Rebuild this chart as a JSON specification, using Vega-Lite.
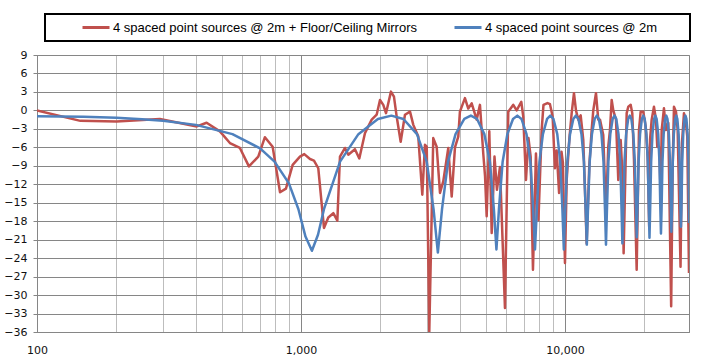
{
  "$schema": "https://vega.github.io/schema/vega-lite/v6.json",
  "width": 652,
  "height": 277,
  "autosize": {"type": "none"},
  "padding": {"left": 37, "top": 55, "right": 36, "bottom": 27},
  "background": "white",
  "datasets": {
    "red": [
      {"f":100,"db":0},{"f":146,"db":-1.7},{"f":200,"db":-1.8},{"f":292,"db":-1.4},{"f":403,"db":-2.6},{"f":439,"db":-2.0},
      {"f":493,"db":-3.4},{"f":538,"db":-5.3},{"f":587,"db":-6.1},{"f":635,"db":-9.1},{"f":689,"db":-7.5},{"f":730,"db":-4.35},
      {"f":781,"db":-5.9},{"f":833,"db":-13.3},{"f":877,"db":-12.7},{"f":930,"db":-8.85},{"f":991,"db":-7.5},{"f":1029,"db":-7.1},
      {"f":1082,"db":-7.9},{"f":1120,"db":-8.15},{"f":1163,"db":-9.4},{"f":1222,"db":-19.1},{"f":1269,"db":-17.4},{"f":1326,"db":-16.7},
      {"f":1373,"db":-17.9},{"f":1405,"db":-7.5},{"f":1468,"db":-6.1},{"f":1511,"db":-7.2},{"f":1601,"db":-6.3},{"f":1663,"db":-7.8},
      {"f":1747,"db":-3.7},{"f":1853,"db":-1.5},{"f":1935,"db":-0.7},{"f":1992,"db":1.7},{"f":2050,"db":0.9},{"f":2099,"db":-0.45},
      {"f":2192,"db":3.05},{"f":2250,"db":2.25},{"f":2304,"db":-1.0},{"f":2386,"db":-5.1},{"f":2477,"db":-0.7},{"f":2588,"db":-0.2},
      {"f":2664,"db":-2.35},{"f":2782,"db":-4.25},{"f":2881,"db":-13.7},{"f":2949,"db":-5.6},{"f":2995,"db":-5.9},{"f":3062,"db":-36},
      {"f":3170,"db":-4.5},{"f":3266,"db":-5.9},{"f":3362,"db":-13.4},{"f":3460,"db":-11.5},{"f":3614,"db":-6.1},{"f":3723,"db":-14},
      {"f":3831,"db":-6},{"f":3943,"db":-4.25},{"f":4000,"db":-0.2},{"f":4179,"db":2.0},{"f":4302,"db":0.3},{"f":4432,"db":1.15},
      {"f":4629,"db":-1.5},{"f":4764,"db":0.9},{"f":4903,"db":-7},{"f":4980,"db":-10.7},{"f":5051,"db":-17.2},{"f":5168,"db":-3.4},
      {"f":5277,"db":-19.9},{"f":5408,"db":-7.5},{"f":5525,"db":-12.9},{"f":5672,"db":-9.2},{"f":5925,"db":-32.1},{"f":6098,"db":-0.2},
      {"f":6371,"db":0.9},{"f":6561,"db":0},{"f":6831,"db":1.4},{"f":6951,"db":-1.0},{"f":7117,"db":-11.3},{"f":7273,"db":-4.5},
      {"f":7413,"db":-7.5},{"f":7564,"db":-25.9},{"f":7763,"db":-7},{"f":7935,"db":-17.8},{"f":8160,"db":-3.2},{"f":8290,"db":0.9},
      {"f":8583,"db":1.2},{"f":8773,"db":1.0},{"f":8980,"db":-1.0},{"f":9160,"db":-9.4},{"f":9300,"db":-6.5},{"f":9500,"db":-13.4},
      {"f":9700,"db":-6.7},{"f":9820,"db":-8.5},{"f":10000,"db":-24.8},{"f":10150,"db":-11.3},{"f":10383,"db":-4.8},{"f":10602,"db":-0.45},
      {"f":10816,"db":2.8},{"f":11007,"db":0},{"f":11230,"db":-1.5},{"f":11468,"db":-0.8},{"f":11731,"db":-4.8},{"f":11906,"db":-12.9},
      {"f":12082,"db":-21.6},{"f":12359,"db":-9.1},{"f":12620,"db":-3.2},{"f":12801,"db":0},{"f":13105,"db":2.8},{"f":13370,"db":-1.5},
      {"f":13570,"db":-1.5},{"f":13964,"db":-4},{"f":14299,"db":-16.7},{"f":14588,"db":-5.9},{"f":14808,"db":-3.2},{"f":15030,"db":1.7},
      {"f":15241,"db":0},{"f":15604,"db":-1.5},{"f":15920,"db":-11.3},{"f":16255,"db":-4.8},{"f":16550,"db":-11.3},{"f":16680,"db":-23.2},
      {"f":17130,"db":-0.45},{"f":17372,"db":0.6},{"f":17740,"db":0.9},{"f":17986,"db":-0.45},{"f":18257,"db":-8},{"f":18690,"db":-25.9},
      {"f":19069,"db":-3.2},{"f":19352,"db":-0.2},{"f":19797,"db":-0.2},{"f":20216,"db":-2.6},{"f":20572,"db":-7.5},{"f":20850,"db":-19},
      {"f":21000,"db":-4.8},{"f":21301,"db":-1.5},{"f":21732,"db":0.6},{"f":22116,"db":-1.5},{"f":22367,"db":-5.9},{"f":22763,"db":-6},
      {"f":23050,"db":-14},{"f":23244,"db":-3.2},{"f":23714,"db":0.35},{"f":24131,"db":-3.2},{"f":24620,"db":-2},{"f":25250,"db":-31.8},
      {"f":25586,"db":-9.1},{"f":25874,"db":0.6},{"f":26333,"db":-0.2},{"f":26724,"db":-3.2},{"f":27400,"db":-25.4},{"f":27748,"db":-5.3},
      {"f":28235,"db":-0.45},{"f":28728,"db":-2.1},{"f":29061,"db":-4.25},{"f":29500,"db":-26.4}
    ],
    "blue": [
      {"f":100,"db":-0.94},{"f":150,"db":-1.05},{"f":200,"db":-1.21},{"f":250,"db":-1.42},{"f":300,"db":-1.67},{"f":400,"db":-2.35},
      {"f":550,"db":-3.86},{"f":700,"db":-6.17},{"f":794,"db":-8.33},{"f":900,"db":-11.85},{"f":978,"db":-16.05},{"f":1040,"db":-20.5},
      {"f":1100,"db":-22.8},{"f":1160,"db":-20.2},{"f":1222,"db":-16.05},{"f":1406,"db":-8.33},{"f":1650,"db":-3.86},{"f":1956,"db":-1.39},{"f":2200,"db":-0.85},
      {"f":2444,"db":-1.39},{"f":2750,"db":-3.86},{"f":2994,"db":-8.33},{"f":3178,"db":-16.05},{"f":3300,"db":-23.1},{"f":3422,"db":-16.05},{"f":3606,"db":-8.33},{"f":3850,"db":-3.86},{"f":4156,"db":-1.39},{"f":4400,"db":-0.85},
      {"f":4644,"db":-1.39},{"f":4950,"db":-3.86},{"f":5194,"db":-8.33},{"f":5378,"db":-16.05},{"f":5500,"db":-22.6},{"f":5622,"db":-16.05},{"f":5806,"db":-8.33},{"f":6050,"db":-3.86},{"f":6356,"db":-1.39},{"f":6600,"db":-0.85},
      {"f":6844,"db":-1.39},{"f":7150,"db":-3.86},{"f":7394,"db":-8.33},{"f":7578,"db":-16.05},{"f":7700,"db":-22.6},{"f":7822,"db":-16.05},{"f":8006,"db":-8.33},{"f":8250,"db":-3.86},{"f":8556,"db":-1.39},{"f":8800,"db":-0.85},
      {"f":9044,"db":-1.39},{"f":9350,"db":-3.86},{"f":9594,"db":-8.33},{"f":9778,"db":-16.05},{"f":9900,"db":-22.6},{"f":10022,"db":-16.05},{"f":10206,"db":-8.33},{"f":10450,"db":-3.86},{"f":10756,"db":-1.39},{"f":11000,"db":-0.85},
      {"f":11244,"db":-1.39},{"f":11550,"db":-3.86},{"f":11794,"db":-8.33},{"f":11978,"db":-16.05},{"f":12100,"db":-21.8},{"f":12222,"db":-16.05},{"f":12406,"db":-8.33},{"f":12650,"db":-3.86},{"f":12956,"db":-1.39},{"f":13200,"db":-0.85},
      {"f":13444,"db":-1.39},{"f":13750,"db":-3.86},{"f":13994,"db":-8.33},{"f":14178,"db":-16.05},{"f":14300,"db":-21.8},{"f":14422,"db":-16.05},{"f":14606,"db":-8.33},{"f":14850,"db":-3.86},{"f":15156,"db":-1.39},{"f":15400,"db":-0.85},
      {"f":15644,"db":-1.39},{"f":15950,"db":-3.86},{"f":16194,"db":-8.33},{"f":16378,"db":-16.05},{"f":16500,"db":-21.6},{"f":16622,"db":-16.05},{"f":16806,"db":-8.33},{"f":17050,"db":-3.86},{"f":17356,"db":-1.39},{"f":17600,"db":-0.85},
      {"f":17844,"db":-1.39},{"f":18150,"db":-3.86},{"f":18394,"db":-8.33},{"f":18578,"db":-16.05},{"f":18700,"db":-20.6},{"f":18822,"db":-16.05},{"f":19006,"db":-8.33},{"f":19250,"db":-3.86},{"f":19556,"db":-1.39},{"f":19800,"db":-0.85},
      {"f":20044,"db":-1.39},{"f":20350,"db":-3.86},{"f":20594,"db":-8.33},{"f":20778,"db":-16.05},{"f":20900,"db":-20.7},{"f":21022,"db":-16.05},{"f":21206,"db":-8.33},{"f":21450,"db":-3.86},{"f":21756,"db":-1.39},{"f":22000,"db":-0.85},
      {"f":22244,"db":-1.39},{"f":22550,"db":-3.86},{"f":22794,"db":-8.33},{"f":22978,"db":-16.05},{"f":23100,"db":-20},{"f":23222,"db":-16.05},{"f":23406,"db":-8.33},{"f":23650,"db":-3.86},{"f":23956,"db":-1.39},{"f":24200,"db":-0.85},
      {"f":24444,"db":-1.39},{"f":24750,"db":-3.86},{"f":24994,"db":-8.33},{"f":25178,"db":-16.05},{"f":25300,"db":-19.7},{"f":25422,"db":-16.05},{"f":25606,"db":-8.33},{"f":25850,"db":-3.86},{"f":26156,"db":-1.39},{"f":26400,"db":-0.85},
      {"f":26644,"db":-1.39},{"f":26950,"db":-3.86},{"f":27194,"db":-8.33},{"f":27378,"db":-16.05},{"f":27500,"db":-18.9},{"f":27622,"db":-16.05},{"f":27806,"db":-8.33},{"f":28050,"db":-3.86},{"f":28356,"db":-1.39},{"f":28600,"db":-0.85},
      {"f":28844,"db":-1.39},{"f":29150,"db":-3.86},{"f":29394,"db":-8.33},{"f":29500,"db":-18.3}
    ]
  },
  "encoding": {
    "x": {
      "field": "f", "type": "quantitative",
      "scale": {"type": "log", "domain": [100, 29500], "nice": false},
      "axis": {
        "title": null,
        "values": [100,200,300,400,500,600,700,800,900,1000,2000,3000,4000,5000,6000,7000,8000,9000,10000,20000],
        "labelExpr": "indexof([100,1000,10000], datum.value) >= 0 ? format(datum.value, ',') : ''",
        "grid": true,
        "gridColor": {"condition": {"test": "indexof([100,1000,10000], datum.value) >= 0", "value": "#868686"}, "value": "#bdbdbd"},
        "gridWidth": 1,
        "ticks": false,
        "domainColor": "#868686",
        "labelFont": "DejaVu Sans", "labelFontSize": 11, "labelColor": "#111111",
        "labelPadding": 12, "labelFlush": false, "labelOverlap": false
      }
    },
    "y": {
      "field": "db", "type": "quantitative",
      "scale": {"domain": [-36, 9], "nice": false, "zero": false},
      "axis": {
        "title": null,
        "values": [-36,-33,-30,-27,-24,-21,-18,-15,-12,-9,-6,-3,0,3,6,9],
        "grid": true, "gridColor": "#868686", "gridWidth": 1,
        "tickColor": "#868686", "tickSize": 4,
        "domainColor": "#868686",
        "labelFont": "DejaVu Sans", "labelFontSize": 11, "labelColor": "#111111",
        "labelPadding": 6
      }
    }
  },
  "layer": [
    {
      "data": {"name": "red"},
      "mark": {"type": "line", "strokeWidth": 2.5, "strokeJoin": "round", "clip": true},
      "encoding": {
        "color": {
          "datum": "4 spaced point sources @ 2m + Floor/Ceiling Mirrors",
          "scale": {"domain": ["4 spaced point sources @ 2m + Floor/Ceiling Mirrors", "4 spaced point sources @ 2m"], "range": ["#C0504D", "#4F81BD"]},
          "legend": {
            "orient": "none", "legendX": 8, "legendY": -41, "direction": "horizontal",
            "title": "WW", "titleOrient": "right", "titleFontSize": 13, "titleFont": "Liberation Sans", "titlePadding": 2, "titleColor": "white",
            "strokeColor": "black", "fillColor": "white", "padding": 6, "clipHeight": 15,
            "symbolType": "stroke", "symbolSize": 729, "symbolStrokeWidth": 3, "symbolOffset": 30,
            "labelFont": "Liberation Sans", "labelFontSize": 13, "labelColor": "#000000", "labelLimit": 0, "labelOffset": 2,
            "columnPadding": 5
          }
        }
      }
    },
    {
      "data": {"name": "blue"},
      "mark": {"type": "line", "strokeWidth": 2.5, "strokeJoin": "round", "clip": true},
      "encoding": {
        "color": {"datum": "4 spaced point sources @ 2m"}
      }
    }
  ],
  "config": {
    "view": {"stroke": "#868686"},
    "legend": {"strokeWidth": 2}
  }
}
